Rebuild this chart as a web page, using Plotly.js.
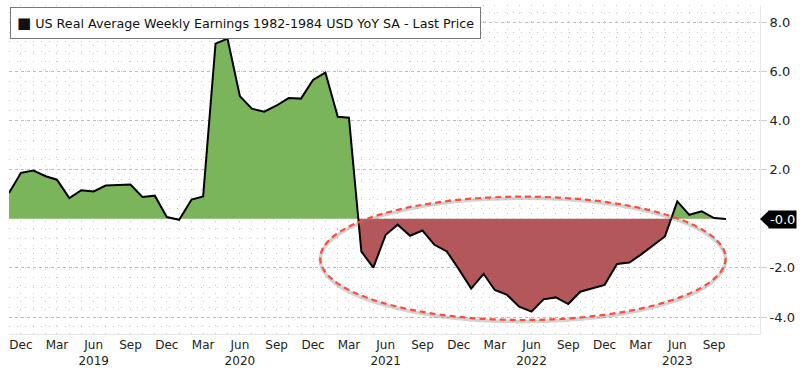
<!DOCTYPE html>
<html>
<head>
<meta charset="utf-8">
<script src="https://cdn.plot.ly/plotly-3.0.1.min.js"></script>
<style>html,body{margin:0;padding:0;background:#fff}#chart{width:800px;height:368px}</style>
</head>
<body>
<div id="chart"></div>
<script>
const months = [
  '2018-11-01','2018-12-01',
  '2019-01-01','2019-02-01','2019-03-01','2019-04-01','2019-05-01','2019-06-01','2019-07-01','2019-08-01','2019-09-01','2019-10-01','2019-11-01','2019-12-01',
  '2020-01-01','2020-02-01','2020-03-01','2020-04-01','2020-05-01','2020-06-01','2020-07-01','2020-08-01','2020-09-01','2020-10-01','2020-11-01','2020-12-01',
  '2021-01-01','2021-02-01','2021-03-01','2021-04-01','2021-05-01','2021-06-01','2021-07-01','2021-08-01','2021-09-01','2021-10-01','2021-11-01','2021-12-01',
  '2022-01-01','2022-02-01','2022-03-01','2022-04-01','2022-05-01','2022-06-01','2022-07-01','2022-08-01','2022-09-01','2022-10-01','2022-11-01','2022-12-01',
  '2023-01-01','2023-02-01','2023-03-01','2023-04-01','2023-05-01','2023-06-01','2023-07-01','2023-08-01','2023-09-01','2023-10-01'
];
const earningsYoY = [
  1.05, 1.87,
  1.96, 1.73, 1.59, 0.84, 1.16, 1.11, 1.35, 1.37, 1.39, 0.89, 0.94, 0.07,
  -0.04, 0.78, 0.91, 7.13, 7.33, 4.99, 4.48, 4.36, 4.61, 4.91, 4.89, 5.65,
  5.95, 4.15, 4.11, -1.33, -1.99, -0.65, -0.24, -0.69, -0.48, -1.06, -1.33, -2.05,
  -2.84, -2.24, -2.90, -3.10, -3.58, -3.78, -3.28, -3.20, -3.47, -2.97, -2.83, -2.69,
  -1.84, -1.78, -1.47, -1.10, -0.72, 0.71, 0.16, 0.30, 0.03, -0.01
];
const tickDates = ['2018-12-01','2019-03-01','2019-06-01','2019-09-01','2019-12-01','2020-03-01','2020-06-01','2020-09-01','2020-12-01','2021-03-01','2021-06-01','2021-09-01','2021-12-01','2022-03-01','2022-06-01','2022-09-01','2022-12-01','2023-03-01','2023-06-01','2023-09-01'];
const tickLabels = ['Dec','Mar','Jun<br>2019','Sep','Dec','Mar','Jun<br>2020','Sep','Dec','Mar','Jun<br>2021','Sep','Dec','Mar','Jun<br>2022','Sep','Dec','Mar','Jun<br>2023','Sep'];
const yTickVals = [-4, -2, 2, 4, 6, 8];
const yTickLabels = ['-4.0', '-2.0', '2.0', '4.0', '6.0', '8.0'];
const seriesName = 'US Real Average Weekly Earnings 1982-1984 USD YoY SA - Last Price';
const lastLabel = '-0.0';
const xRange = ['2018-11-01','2023-12-25'];
const yRange = [-4.69, 8.7];
const ellipseX = ['2020-12-19','2023-09-30'];
const ellipseY = [-4.12, 0.9];

// Split the series into positive / negative fill polygons (zero crossings computed from the data)
function toMs(d){ return Date.parse(d + 'T00:00:00Z'); }
function msToStr(ms){ return new Date(ms).toISOString().slice(0,19).replace('T',' '); }
const posX=[], posY=[], negX=[], negY=[];
for (let i=0;i<months.length;i++){
  const v = earningsYoY[i];
  posX.push(months[i]); posY.push(Math.max(v,0));
  negX.push(months[i]); negY.push(Math.min(v,0));
  if (i < months.length-1){
    const w = earningsYoY[i+1];
    if ((v>0 && w<0) || (v<0 && w>0)){
      const t1=toMs(months[i]), t2=toMs(months[i+1]);
      const tc = msToStr(t1 + (t2-t1)*v/(v-w));
      posX.push(tc); posY.push(0);
      negX.push(tc); negY.push(0);
    }
  }
}

const font = 'DejaVu Sans, Verdana, sans-serif';
const traces = [
  {x:posX, y:posY, type:'scatter', mode:'lines', fill:'tozeroy', fillcolor:'#7ab55c', line:{width:0, color:'rgba(0,0,0,0)'}, hoverinfo:'skip', showlegend:false},
  {x:negX, y:negY, type:'scatter', mode:'lines', fill:'tozeroy', fillcolor:'#b4575a', line:{width:0, color:'rgba(0,0,0,0)'}, hoverinfo:'skip', showlegend:false},
  {x:months, y:earningsYoY, type:'scatter', mode:'lines', line:{color:'#000', width:2}, name:seriesName, showlegend:false}
];

const layout = {
  width:800, height:368,
  margin:{l:9, r:40, t:5, b:34},
  paper_bgcolor:'#fff', plot_bgcolor:'#fff',
  font:{family:font, size:12, color:'#222'},
  showlegend:false,
  xaxis:{
    type:'date', range:xRange,
    tickmode:'array', tickvals:tickDates, ticktext:tickLabels,
    showgrid:false, zeroline:false,
    showline:true, linecolor:'#e6e6e6', linewidth:1,
    ticks:'', tickfont:{family:font, size:12, color:'#222'},
    minor:{dtick:'M1', tick0:'2018-11-01', showgrid:true, gridcolor:'#c8c8c8', griddash:'1px,7px', gridwidth:1}
  },
  yaxis:{
    side:'right', range:yRange, tickmode:'array', tickvals:yTickVals, ticktext:yTickLabels,
    showgrid:true, gridcolor:'#bdbdbd', griddash:'3px,3px', gridwidth:1,
    zeroline:false, showline:true, linecolor:'#e6e6e6', linewidth:1, mirror:false,
    ticks:'outside', ticklen:6, tickcolor:'#d0d0d0',
    tickfont:{family:font, size:13, color:'#222'},
    minor:{dtick:0.4, tick0:0, showgrid:true, gridcolor:'#c8c8c8', griddash:'1px,7px', gridwidth:1}
  },
  shapes:[
    {type:'circle', xref:'x', yref:'y', x0:ellipseX[0], x1:ellipseX[1], y0:ellipseY[0]-0.07, y1:ellipseY[1]-0.07, line:{color:'rgba(130,130,130,0.35)', width:3.5}},
    {type:'circle', xref:'x', yref:'y', x0:ellipseX[0], x1:ellipseX[1], y0:ellipseY[0], y1:ellipseY[1], line:{color:'#ff4b3a', width:2.2, dash:'6px,4px'}},
    {type:'path', xref:'paper', yref:'y', xsizemode:'pixel', ysizemode:'pixel', xanchor:1, yanchor:earningsYoY[earningsYoY.length-1], path:'M0,0 L9,8.5 L9,-8.5 Z', fillcolor:'#000', line:{width:0}}
  ],
  annotations:[
    {xref:'paper', yref:'paper', x:0.0015, y:0.995, xanchor:'left', yanchor:'top', showarrow:false,
     text:'<span style="font-size:15px">■</span> ' + seriesName, align:'left',
     font:{family:font, size:12.7, color:'#111'}, bgcolor:'#fff', bordercolor:'#777', borderwidth:1, borderpad:6},
    {xref:'paper', yref:'y', x:1, y:earningsYoY[earningsYoY.length-1], xanchor:'left', yanchor:'middle', xshift:8, showarrow:false,
     text:lastLabel, font:{family:font, size:13, color:'#fff'}, bgcolor:'#000', borderpad:1}
  ]
};
Plotly.newPlot('chart', traces, layout, {displayModeBar:false, staticPlot:true});
</script>
</body>
</html>
